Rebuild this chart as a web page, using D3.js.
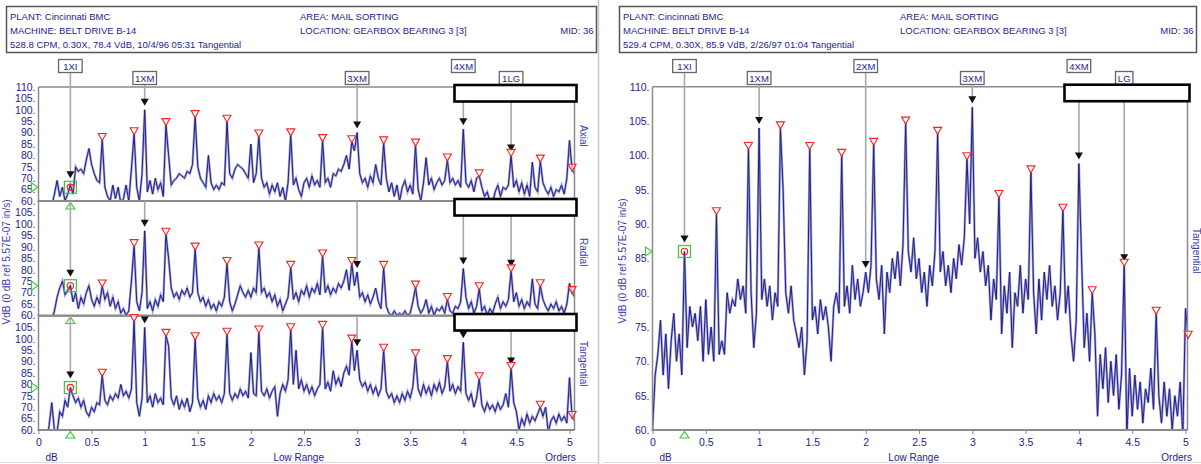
<!DOCTYPE html>
<html>
<head>
<meta charset="utf-8">
<script src="https://cdn.jsdelivr.net/npm/d3@7"></script>
<style>
    body { margin: 0; background: #fff; }
    svg { display: block; font-family: "Liberation Sans", Arial, sans-serif; }
</style>
</head>
<body>
<div id="chart"></div>
<script>
// Spectres (VdB), un point tous les 0.025 ordre
const STEP = 0.025;

const axialOld = [
    50, 50, 50, 52, 55, 58, 63, 69, 62, 66, 60, 63, 67, 63, 75, 73, 74, 72, 78, 83,
    76, 72, 69, 68, 87, 66, 62, 60, 67, 61, 66, 59, 61, 67, 60, 74, 89.5, 66, 60, 72,
    100, 64, 69, 63, 70, 65, 68, 62, 93.5, 80, 67, 69, 70, 72, 71, 70, 73, 72, 76, 97,
    75, 70, 68, 66, 80, 68, 65, 67, 65, 68, 67, 95, 72, 70, 74, 76, 75, 74, 72, 70,
    85, 68, 72, 88.5, 70, 66, 68, 63, 67, 64, 68, 62, 66, 60, 68, 89, 67, 70, 65, 62,
    68, 70, 66, 71, 67, 69, 66, 86.5, 68, 70, 66, 72, 71, 74, 73, 76, 80, 74, 86, 82,
    90, 72, 68, 70, 66, 71, 68, 76, 70, 67, 85.5, 70, 64, 68, 62, 67, 60, 66, 69, 64,
    67, 63, 84.5, 65, 60, 68, 79, 67, 70, 65, 68, 70, 67, 69, 78, 68, 70, 67, 69, 66,
    91.5, 68, 66, 69, 64, 70, 71, 66, 62, 64, 60, 59, 64, 67, 62, 66, 65, 67, 80, 66,
    69, 64, 68, 63, 67, 62, 77, 66, 64, 77.5, 68, 65, 63, 66, 62, 65, 64, 67, 63, 70,
    86.6, 73.5, 72
];

const radialOld = [
    50, 50, 50, 52, 55, 58, 62, 68, 72, 75, 69, 71, 73, 66, 70, 63, 68, 65, 70, 73,
    67, 64, 68, 65, 72.9, 67, 70, 64, 68, 63, 66, 61, 63, 60, 62, 75, 90.5, 66, 62, 70,
    97, 63, 66, 62, 67, 64, 69, 66, 95.5, 85, 72, 68, 70, 67, 71, 69, 72, 68, 70, 89,
    70, 66, 68, 64, 67, 63, 65, 62, 66, 64, 68, 82.7, 66, 62, 65, 69, 73, 70, 68, 71,
    68, 72, 70, 89.5, 70, 72, 68, 70, 66, 69, 64, 67, 62, 65, 68, 81, 67, 70, 66, 71,
    69, 73, 68, 72, 70, 74, 69, 86, 70, 73, 69, 72, 70, 74, 72, 75, 80, 71, 82.7, 73,
    79, 68, 70, 66, 69, 65, 68, 72, 66, 63, 81, 64, 61, 60, 62, 60, 61, 60, 62, 60,
    61, 66, 72.4, 64, 61, 63, 67, 61, 64, 60, 63, 62, 64, 61, 67, 62, 61, 64, 63, 66,
    80.5, 68, 63, 66, 61, 64, 71.7, 62, 64, 60, 63, 61, 65, 68, 63, 66, 64, 67, 79.5, 66,
    70, 64, 67, 63, 66, 64, 76, 65, 63, 73, 67, 64, 62, 65, 63, 66, 62, 64, 61, 65,
    74, 70, 68
];

const tangentialOld = [
    50, 50, 52, 55, 62, 72, 60, 59, 68, 66, 73, 70, 78.6, 75, 72, 74, 70, 73, 68, 66,
    70, 68, 72, 71, 84, 73, 71, 75, 73, 76, 74, 80, 75, 77, 74, 78, 108, 72, 66, 74,
    105, 72, 75, 70, 76, 72, 74, 71, 101.5, 97, 74, 71, 75, 69, 73, 70, 74, 68, 72, 100,
    74, 70, 73, 69, 75, 72, 76, 73, 75, 72, 76, 102, 76, 73, 76, 74, 78, 75, 77, 74,
    94, 76, 75, 103, 77, 75, 78, 74, 77, 79, 66, 76, 80, 77, 82, 104, 80, 95, 78, 82,
    77, 80, 76, 79, 75, 78, 80, 105, 78, 81, 77, 86, 80, 83, 79, 85, 88, 84, 99, 86,
    95, 82, 79, 81, 77, 80, 76, 79, 75, 78, 95, 77, 74, 76, 72, 75, 72, 76, 73, 77,
    74, 79, 92.5, 78, 75, 80, 76, 79, 75, 80, 77, 81, 76, 79, 90, 77, 80, 76, 79, 77,
    98.5, 76, 73, 76, 70, 74, 82.5, 71, 68, 72, 69, 71, 68, 72, 69, 71, 76, 70, 87, 72,
    68, 60, 65, 62, 67, 63, 66, 64, 67, 70, 66, 70, 59, 64, 66, 63, 67, 64, 66, 63,
    83, 65.5, 64
];

const tangentialNew = [
    60, 68, 71, 76, 68, 74, 66, 73, 77, 70, 74, 68, 86, 72, 78, 75, 77, 73, 78, 70,
    79, 71, 75, 70, 91.5, 71, 73, 71, 80, 77, 79, 78, 82, 79, 81, 77, 101, 80, 72, 77,
    104, 79, 82, 78, 81, 76, 80, 78, 104, 95, 80, 77, 81, 76, 74, 72, 75, 68, 73, 101,
    76, 78, 74, 79, 76, 78, 75, 70, 78, 80, 77, 100, 78, 81, 77, 84, 79, 82, 78, 80,
    83, 80, 84, 101.6, 82, 79, 84, 74, 83, 80, 85, 82, 86, 81, 87, 104.7, 86, 83, 88, 82,
    85, 80, 83, 78, 84, 81, 86, 103.2, 83, 86, 81, 84, 80, 85, 82, 87, 84, 88, 99.5, 90,
    107, 85, 88, 83, 86, 81, 84, 76, 82, 79, 94, 74, 81, 77, 83, 72, 80, 78, 84, 77,
    82, 79, 97.6, 80, 74, 82, 76, 83, 79, 84, 78, 81, 76, 80, 92, 77, 81, 74, 70, 76,
    98.8, 85, 72, 77, 70, 80, 74, 62, 71, 66, 72, 64, 70, 65, 71, 63, 68, 84, 59, 69,
    62, 68, 63, 67, 61, 66, 64, 69, 63, 77, 65, 61, 67, 62, 66, 60, 65, 62, 67, 59,
    77.7, 73.5, 70
];

// Marqueurs de pics (triangles rouges)
const peakOrdersOld = [0.6, 0.9, 1.2, 1.475, 1.775, 2.075, 2.375, 2.675, 2.95, 3.25, 3.55, 3.85, 4.15, 4.45, 4.725, 5.025];
const peakOrdersNew = [0.6, 0.9, 1.2, 1.475, 1.775, 2.075, 2.375, 2.675, 2.95, 3.25, 3.55, 3.85, 4.125, 4.425, 4.725, 5.025];

// Marqueurs de fréquences de défaut
const faultNamesOld = ["1XI", "1XM", "3XM", "4XM", "1LG"];
const faultOrdersOld = [0.3, 1.0, 3.0, 4.0, 4.45];
const faultRowOld = [0, 1, 1, 0, 1];
const faultNamesNew = ["1XI", "1XM", "2XM", "3XM", "4XM", "LG"];
const faultOrdersNew = [0.3, 1.0, 2.0, 3.0, 4.0, 4.425];
const faultRowNew = [0, 1, 0, 1, 0, 1];

// Axes
const yTicks = [110, 105, 100, 95, 90, 85, 80, 75, 70, 65, 60];
const xTicks = [0, 0.5, 1, 1.5, 2, 2.5, 3, 3.5, 4, 4.5, 5];

// En-têtes
const headerOld = ["PLANT: Cincinnati BMC", "MACHINE: BELT DRIVE B-14", "528.8 CPM, 0.30X, 78.4 VdB, 10/4/96 05:31  Tangential"];
const headerNew = ["PLANT: Cincinnati BMC", "MACHINE: BELT DRIVE B-14", "529.4 CPM, 0.30X, 85.9 VdB, 2/26/97 01:04  Tangential"];
const headerRight = ["AREA: MAIL SORTING", "LOCATION: GEARBOX BEARING 3 [3]"];

const CONFIG = {
    width: 1201,
    height: 464,
    navy: "#24248f",
    trace: "#1f1f8a",
    halo: "#a3a3d6",
    frame: "#8a8a8a",
    red: "#ff2020",
    green: "#33cc33"
};

const svg = d3.select("#chart").append("svg")
    .attr("width", CONFIG.width)
    .attr("height", CONFIG.height);

// Séparateurs de panneaux
svg.append("line").attr("x1", 598.5).attr("x2", 598.5).attr("y1", 0).attr("y2", 464)
    .attr("stroke", "#c8c8c8").attr("stroke-width", 1.5);
svg.append("line").attr("x1", 0).attr("x2", 598).attr("y1", 462.5).attr("y2", 462.5)
    .attr("stroke", "#dcdcdc");
svg.append("line").attr("x1", 603).attr("x2", 1201).attr("y1", 462.5).attr("y2", 462.5)
    .attr("stroke", "#dcdcdc");

function drawHeader(x0, x1, lines, midX) {
    const g = svg.append("g");
    g.append("rect")
        .attr("x", x0).attr("y", 6.5)
        .attr("width", x1 - x0).attr("height", 46)
        .attr("fill", "#fff").attr("stroke", "#555").attr("stroke-width", 1.5);
    lines.forEach((t, i) => {
        g.append("text").attr("x", x0 + 3.5).attr("y", 19.5 + i * 14)
            .attr("font-size", 9.5).attr("fill", CONFIG.navy).text(t);
    });
    headerRight.forEach((t, i) => {
        g.append("text").attr("x", midX).attr("y", 19.5 + i * 14)
            .attr("font-size", 9.5).attr("fill", CONFIG.navy).text(t);
    });
    g.append("text").attr("x", x1 - 3).attr("y", 33.5)
        .attr("text-anchor", "end").attr("font-size", 9.5).attr("fill", CONFIG.navy).text("MID: 36");
}

drawHeader(6.5, 596.5, headerOld, 300);
drawHeader(619.5, 1196.5, headerNew, 900);

let clipId = 0;

// Un sous-graphique de spectre
function drawSpectrum(opt) {
    const x = opt.x;
    const y = d3.scaleLinear().domain([60, 110]).range([opt.bottom, opt.top]);
    const g = svg.append("g");
    const values = opt.values;
    const valueAt = o => values[Math.round(o / STEP)];

    // Axe Y
    const yAxis = g.append("g")
        .attr("transform", `translate(${x.range()[0]},0)`)
        .call(d3.axisLeft(y).tickValues(opt.yTicks).tickSize(0).tickPadding(3).tickFormat(d => d + "."));
    yAxis.select(".domain").remove();
    yAxis.selectAll("text").attr("fill", CONFIG.navy).attr("font-size", 10.5)
        .attr("font-family", "'Liberation Sans', Arial, sans-serif");

    // Trace
    clipId++;
    g.append("clipPath").attr("id", "clip" + clipId)
        .append("rect")
        .attr("x", x.range()[0]).attr("y", opt.top - 3)
        .attr("width", opt.right - x.range()[0]).attr("height", opt.bottom - opt.top + 3);

    const line = d3.line()
        .x((d, i) => x(i * STEP))
        .y(d => y(d));

    const tg = g.append("g").attr("clip-path", `url(#clip${clipId})`);
    tg.append("path").datum(values).attr("d", line)
        .attr("fill", "none").attr("stroke", CONFIG.halo).attr("stroke-width", 2.4);
    tg.append("path").datum(values).attr("d", line)
        .attr("fill", "none").attr("stroke", CONFIG.trace).attr("stroke-width", 1);

    // Cadre
    g.append("line").attr("x1", x.range()[0]).attr("x2", x.range()[0])
        .attr("y1", opt.top).attr("y2", opt.bottom)
        .attr("stroke", CONFIG.frame).attr("stroke-width", 1.5);
    g.append("line").attr("x1", opt.right).attr("x2", opt.right)
        .attr("y1", opt.top).attr("y2", opt.bottom)
        .attr("stroke", CONFIG.frame).attr("stroke-width", 1.5);
    g.append("line").attr("x1", x.range()[0]).attr("x2", opt.right)
        .attr("y1", opt.top).attr("y2", opt.top)
        .attr("stroke", CONFIG.frame).attr("stroke-width", 1.5);
    g.append("line").attr("x1", x.range()[0] - 1).attr("x2", opt.right)
        .attr("y1", opt.bottom).attr("y2", opt.bottom)
        .attr("stroke", CONFIG.frame).attr("stroke-width", 2.2);

    // Lignes de marqueurs de défaut et flèches
    opt.faultOrders.forEach((o, i) => {
        const px = x(o);
        const v = (o === 0.3 && opt.xiValue) ? opt.xiValue : valueAt(o);
        const ay = y(v) - (o === 0.3 ? 9 : 4);
        const startY = opt.lineStart ? opt.lineStart[i] : opt.top;
        if (ay > startY) {
            g.append("line").attr("x1", px).attr("x2", px)
                .attr("y1", startY).attr("y2", ay - 6)
                .attr("stroke", "#a8a8a8").attr("stroke-width", 1.6);
        }
        g.append("path")
            .attr("d", `M${px - 4},${ay - 7}L${px + 4},${ay - 7}L${px},${ay}Z`)
            .attr("fill", "#111");
    });

    // Pics (triangles rouges)
    opt.peakOrders.forEach(o => {
        const px = x(o);
        const py = y(valueAt(o)) - 2;
        g.append("path")
            .attr("d", `M${px - 4},${py - 4}L${px + 4},${py - 4}L${px},${py + 3}Z`)
            .attr("fill", "#fff").attr("fill-opacity", 0.6)
            .attr("stroke", CONFIG.red).attr("stroke-width", 1.1);
    });

    // Curseur 1XI (vert)
    const xi = x(0.3);
    const xiY = y(opt.xiValue || valueAt(0.3));
    g.append("rect").attr("x", xi - 6).attr("y", xiY - 6).attr("width", 12).attr("height", 12)
        .attr("fill", "none").attr("stroke", CONFIG.green).attr("stroke-width", 1.2);
    g.append("circle").attr("cx", xi).attr("cy", xiY).attr("r", 3.2)
        .attr("fill", "none").attr("stroke", CONFIG.red).attr("stroke-width", 1.1);
    g.append("path")
        .attr("d", `M${xi - 4.5},${opt.bottom + 8}L${xi + 4.5},${opt.bottom + 8}L${xi},${opt.bottom + 1.5}Z`)
        .attr("fill", "#fff").attr("stroke", CONFIG.green).attr("stroke-width", 1.1);
    const lx = x.range()[0];
    g.append("path")
        .attr("d", `M${lx - 7},${xiY - 4.5}L${lx - 7},${xiY + 4.5}L${lx - 0.5},${xiY}Z`)
        .attr("fill", "#fff").attr("stroke", CONFIG.green).attr("stroke-width", 1.1);

    // Boîte épaisse
    g.append("rect")
        .attr("x", opt.boxX0).attr("y", opt.top - 2)
        .attr("width", opt.right + 2 - opt.boxX0).attr("height", 16.5)
        .attr("fill", "#fff").attr("stroke", "#000").attr("stroke-width", 2.6);

    // Libellé de la direction
    g.append("text")
        .attr("transform", `translate(${opt.right + 5},${opt.labelY}) rotate(90)`)
        .attr("font-size", 10).attr("fill", "#3a3ab0").text(opt.label);

    return y;
}

function drawFaultLabels(x, names, orders, rows) {
    names.forEach((n, i) => {
        const px = x(orders[i]);
        const cy = rows[i] === 0 ? 66 : 78;
        const w = n.length * 6.2 + 5;
        svg.append("rect").attr("x", px - w / 2).attr("y", cy - 6.5)
            .attr("width", w).attr("height", 13)
            .attr("fill", "#fff").attr("stroke", "#666").attr("stroke-width", 1.3);
        svg.append("text").attr("x", px).attr("y", cy + 3.5)
            .attr("text-anchor", "middle").attr("font-size", 9.5)
            .attr("fill", CONFIG.navy).text(n);
    });
}

function drawXAxis(x, bottom, yTitleX, yTitleY) {
    const ax = svg.append("g").attr("transform", `translate(0,${bottom})`)
        .call(d3.axisBottom(x).tickValues(xTicks).tickSize(4).tickPadding(5).tickFormat(d => String(d)));
    ax.select(".domain").remove();
    ax.selectAll("line").attr("stroke", CONFIG.frame);
    ax.selectAll("text").attr("fill", CONFIG.navy).attr("font-size", 10.5)
        .attr("font-family", "'Liberation Sans', Arial, sans-serif");

    const x0 = x.range()[0];
    svg.append("text").attr("x", x0 + 7).attr("y", bottom + 31)
        .attr("font-size", 10).attr("fill", CONFIG.navy).text("dB");
    svg.append("text").attr("x", x(2.45)).attr("y", bottom + 31)
        .attr("text-anchor", "middle").attr("font-size", 10).attr("fill", CONFIG.navy).text("Low Range");
    svg.append("text").attr("x", x(5.06)).attr("y", bottom + 31)
        .attr("text-anchor", "end").attr("font-size", 10).attr("fill", CONFIG.navy).text("Orders");
    svg.append("text")
        .attr("transform", `translate(${yTitleX},${yTitleY}) rotate(-90)`)
        .attr("text-anchor", "middle").attr("font-size", 10).attr("fill", "#3a3ab0")
        .text("VdB (0 dB ref 5.57E-07 in/s)");
}

// ---- Panneau gauche : trois directions ----
const xOld = d3.scaleLinear().domain([0, 5]).range([38.5, 569.5]);
const leftRight = 574.5;

drawFaultLabels(xOld, faultNamesOld, faultOrdersOld, faultRowOld);

const subplots = [
    { values: axialOld, top: 87, bottom: 201, label: "Axial", labelY: 125, yTicks: yTicks, xiValue: 66 },
    { values: radialOld, top: 201, bottom: 315.5, label: "Radial", labelY: 238, yTicks: yTicks.slice(1) },
    { values: tangentialOld, top: 316, bottom: 430, label: "Tangential", labelY: 341, yTicks: yTicks.slice(1) }
];

subplots.forEach((s, k) => {
    drawSpectrum(Object.assign({
        x: xOld,
        right: leftRight,
        peakOrders: peakOrdersOld,
        faultOrders: faultOrdersOld,
        lineStart: k === 0 ? [73, 85, 85, 102, 102] : [s.top, s.top, s.top, s.top + 15, s.top + 15],
        boxX0: 454.5
    }, s));
});
drawXAxis(xOld, 430, 10, 262);

// ---- Panneau droit : tangentiel récent ----
const xNew = d3.scaleLinear().domain([0, 5]).range([652.5, 1185.5]);
drawFaultLabels(xNew, faultNamesNew, faultOrdersNew, faultRowNew);
drawSpectrum({
    x: xNew,
    right: 1187.5,
    values: tangentialNew,
    top: 86.7,
    bottom: 430,
    label: "Tangential",
    labelY: 228,
    yTicks: yTicks,
    peakOrders: peakOrdersNew,
    faultOrders: faultOrdersNew,
    lineStart: [73, 85, 73, 85, 102, 102],
    boxX0: 1064.5
});
drawXAxis(xNew, 430, 626, 261);
</script>
</body>
</html>
